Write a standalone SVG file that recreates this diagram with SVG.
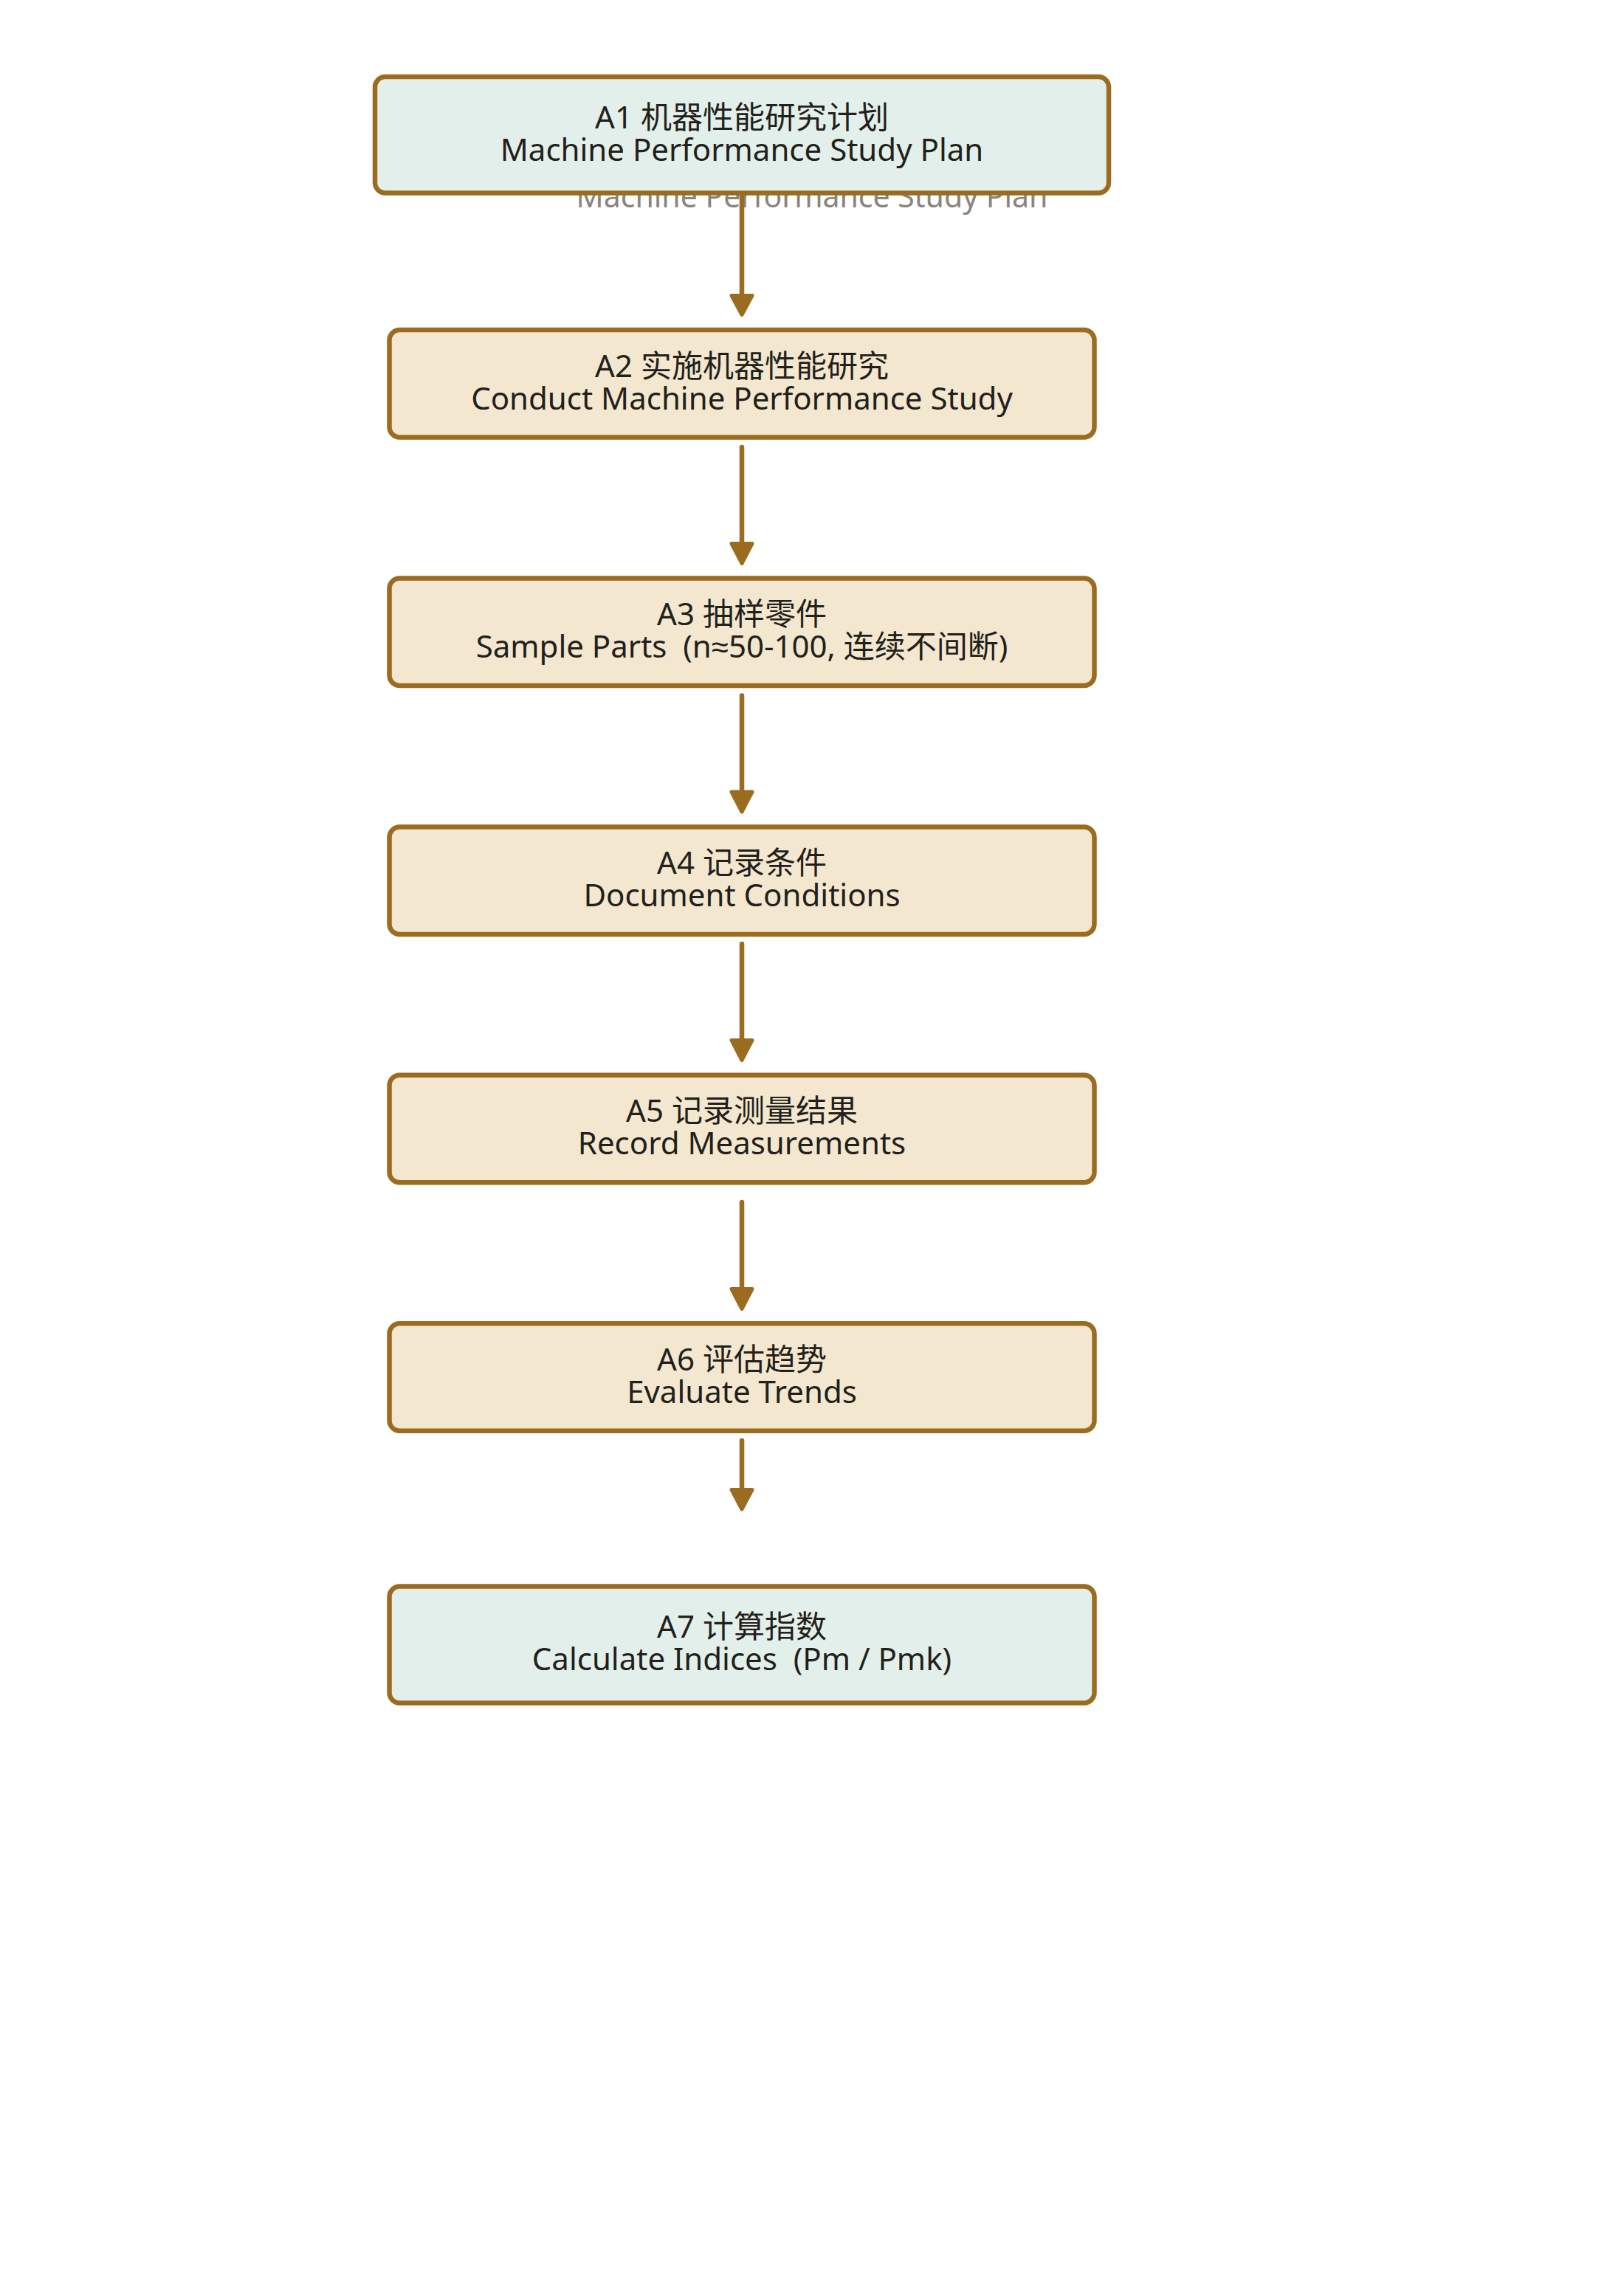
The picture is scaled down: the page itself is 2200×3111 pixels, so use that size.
<svg xmlns="http://www.w3.org/2000/svg" width="2200" height="3111" viewBox="0 0 2200 3111">
<style>
  text { font-family: "Noto Sans", "Noto Sans CJK SC", sans-serif; font-size: 42px; fill: #231f1a; text-anchor: middle; }
  .ghost { fill: #8a847c; font-size: 41px; }
  .sym { font-family: "Liberation Sans", "Noto Sans", sans-serif; }
  .box { stroke: #9b6c20; stroke-width: 6.5; }
  .mint { fill: #e3efea; }
  .beige { fill: #f3e7d0; }
  .edge { stroke: #9b6c20; stroke-width: 6.5; stroke-linecap: round; fill: none; }
  .head { fill: #9b6c20; stroke: #9b6c20; stroke-width: 5; stroke-linejoin: round; }
</style>
<rect width="2200" height="3111" fill="#ffffff"/>
<g id="ghost-label">
  <text class="ghost" x="1100" y="281">Machine Performance Study Plan</text>
</g>
<g id="A1">
  <rect class="box mint" x="508" y="104" width="994" height="157.5" rx="14"/>
  <text x="1005" y="173.5"><tspan x="1005">A1 机器性能研究计划</tspan><tspan x="1005" dy="44">Machine Performance Study Plan</tspan></text>
</g>
<g id="A2">
  <rect class="box beige" x="527.5" y="447" width="955" height="145.5" rx="14"/>
  <text x="1005" y="510.5"><tspan x="1005">A2 实施机器性能研究</tspan><tspan x="1005" dy="44">Conduct Machine Performance Study</tspan></text>
</g>
<g id="A3">
  <rect class="box beige" x="527.5" y="783.5" width="955" height="145.5" rx="14"/>
  <text x="1005" y="847" xml:space="preserve"><tspan x="1005">A3 抽样零件</tspan><tspan x="1005" dy="44">Sample Parts  (n<tspan class="sym">≈</tspan>50-100, 连续不间断)</tspan></text>
</g>
<g id="A4">
  <rect class="box beige" x="527.5" y="1120.5" width="955" height="145.5" rx="14"/>
  <text x="1005" y="1184"><tspan x="1005">A4 记录条件</tspan><tspan x="1005" dy="44">Document Conditions</tspan></text>
</g>
<g id="A5">
  <rect class="box beige" x="527.5" y="1456.7" width="955" height="145.5" rx="14"/>
  <text x="1005" y="1520"><tspan x="1005">A5 记录测量结果</tspan><tspan x="1005" dy="44">Record Measurements</tspan></text>
</g>
<g id="A6">
  <rect class="box beige" x="527.5" y="1793.2" width="955" height="145.5" rx="14"/>
  <text x="1005" y="1856.5"><tspan x="1005">A6 评估趋势</tspan><tspan x="1005" dy="44">Evaluate Trends</tspan></text>
</g>
<g id="A7">
  <rect class="box mint" x="527.5" y="2149.5" width="955" height="158" rx="14"/>
  <text x="1005" y="2219" xml:space="preserve"><tspan x="1005">A7 计算指数</tspan><tspan x="1005" dy="44">Calculate Indices  (Pm / Pmk)</tspan></text>
</g>
<g id="connectors">
  <line class="edge" x1="1005" y1="266" x2="1005" y2="400"/>
  <polygon class="head" points="991,400.5 1019,400.5 1005,426.5"/>
  <line class="edge" x1="1005" y1="606" x2="1005" y2="736"/>
  <polygon class="head" points="991,736.5 1019,736.5 1005,763.5"/>
  <line class="edge" x1="1005" y1="942.5" x2="1005" y2="1073"/>
  <polygon class="head" points="991,1073 1019,1073 1005,1100"/>
  <line class="edge" x1="1005" y1="1279" x2="1005" y2="1409"/>
  <polygon class="head" points="991,1409.5 1019,1409.5 1005,1436.5"/>
  <line class="edge" x1="1005" y1="1629" x2="1005" y2="1746"/>
  <polygon class="head" points="991,1746.5 1019,1746.5 1005,1773.5"/>
  <line class="edge" x1="1005" y1="1952" x2="1005" y2="2018"/>
  <polygon class="head" points="991,2018.5 1019,2018.5 1005,2045"/>
</g>
</svg>
